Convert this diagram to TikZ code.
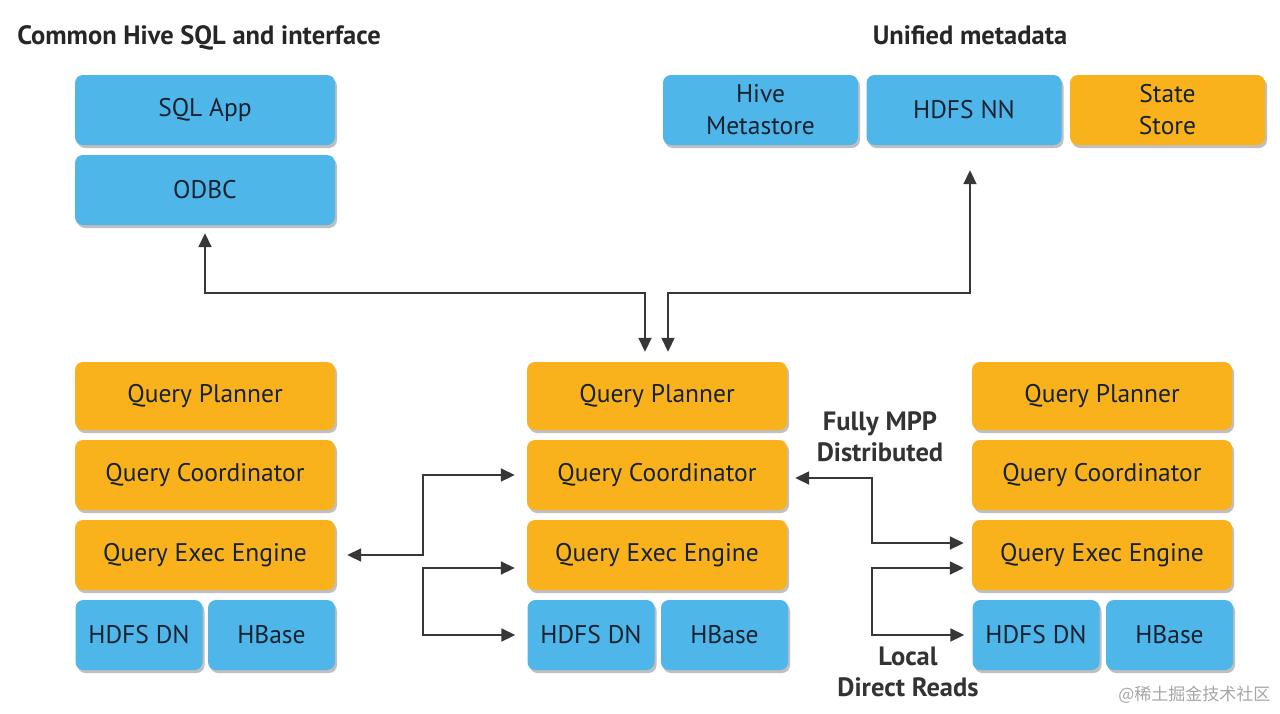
\documentclass[tikz,border=0pt]{standalone}
\usepackage{fontspec}
\setmainfont{PT Sans}
\newfontfamily\cjkfont{Noto Sans CJK SC}
\usetikzlibrary{arrows.meta,shadows,calc}
\definecolor{boxblue}{RGB}{78,182,232}
\definecolor{boxorange}{RGB}{249,178,27}
\definecolor{boxtext}{RGB}{22,34,48}
\definecolor{linegray}{RGB}{55,55,55}
\begin{document}
\begin{tikzpicture}[x=1pt,y=-1pt,
  box/.style={rounded corners=8pt, inner sep=0pt, align=center, text=boxtext,
    font=\fontsize{25.5}{32}\selectfont,
    drop shadow={shadow xshift=2pt, shadow yshift=-3pt, opacity=0.25, fill=black}},
  bbox/.style={box, fill=boxblue},
  obox/.style={box, fill=boxorange},
  wide/.style={minimum width=260pt, minimum height=70pt},
  half/.style={minimum width=127pt, minimum height=70pt},
  meta/.style={minimum width=195pt, minimum height=70pt},
  conn2/.style={draw=linegray, line width=1.8pt, {Triangle[length=14pt,width=13pt]}-{Triangle[length=14pt,width=13pt]}},
  title/.style={font=\bfseries\fontsize{26.5}{30}\selectfont, text=black!85, anchor=base},
  lbl/.style={font=\bfseries\fontsize{26.5}{31}\selectfont, text=black!80, align=center}
]
\useasboundingbox[fill=white] (0,0) rectangle (1280,713);

% titles
\node[title] (t1) at (199,44) {Common Hive SQL and interface};
\node[title] (t2) at (970,44) {Unified metadata};

% top left
\node[bbox, wide] (sql) at (205,110) {SQL App};
\node[bbox, wide] (odbc) at (205,190) {ODBC};

% metadata
\node[bbox, meta] (hms) at (760.5,110) {Hive\\Metastore};
\node[bbox, meta] (nn) at (964,110) {HDFS NN};
\node[obox, meta] (ss) at (1167.5,110) {State\\Store};

% left column
\node[obox, wide, minimum height=68pt] (qp1) at (205,396) {Query Planner};
\node[obox, wide] (qc1) at (205,475) {Query Coordinator};
\node[obox, wide] (qe1) at (205,555) {Query Exec Engine};
\node[bbox, half] (dn1) at (139,635) {HDFS DN};
\node[bbox, half] (hb1) at (271.5,635) {HBase};

% middle column
\node[obox, wide, minimum height=68pt] (qp2) at (657,396) {Query Planner};
\node[obox, wide] (qc2) at (657,475) {Query Coordinator};
\node[obox, wide] (qe2) at (657,555) {Query Exec Engine};
\node[bbox, half] (dn2) at (591,635) {HDFS DN};
\node[bbox, half] (hb2) at (724.5,635) {HBase};

% right column
\node[obox, wide, minimum height=68pt] (qp3) at (1102,396) {Query Planner};
\node[obox, wide] (qc3) at (1102,475) {Query Coordinator};
\node[obox, wide] (qe3) at (1102,555) {Query Exec Engine};
\node[bbox, half] (dn3) at (1036,635) {HDFS DN};
\node[bbox, half] (hb3) at (1169.5,635) {HBase};

% labels
\node[lbl] (mpp) at (880,437) {Fully MPP\\Distributed};
\node[lbl] (ldr) at (908,672) {Local\\Direct Reads};

% watermark
\node[font=\cjkfont\fontsize{17}{20}\selectfont, text=black!35, anchor=east] (wm) at (1274,695) {@稀土掘金技术社区};

% helper coordinates
\coordinate (topbus) at (0,293);
\coordinate (busL) at (423,0);
\coordinate (busR) at (872,0);
\coordinate (qp2a) at ($(qp2.north)+(-12,0)$);
\coordinate (qp2b) at ($(qp2.north)+(11,0)$);
\coordinate (nnb) at ($(nn.south)+(6,0)$);

% connectors
\draw[conn2, shorten <=8pt, shorten >=10pt] (odbc.south) |- (topbus -| qp2a) -- (qp2a);
\draw[conn2, shorten <=25pt, shorten >=10pt] (nnb) |- (topbus -| qp2b) -- (qp2b);

\draw[conn2, shorten <=12pt, shorten >=12pt] (qe1.east) -| (busL |- qc2.west) -- (qc2.west);
\coordinate (qe2a) at ($(qe2.west)+(0,13)$);
\draw[conn2, shorten <=12pt, shorten >=12pt] (qe2a) -| (busL |- dn2.west) -- (dn2.west);

\coordinate (qc2r) at ($(qc2.east)+(0,3)$);
\coordinate (qe3a) at ($(qe3.west)+(0,-12)$);
\coordinate (qe3b) at ($(qe3.west)+(0,13)$);
\draw[conn2, shorten <=8pt, shorten >=8pt] (qc2r) -| (busR |- qe3a) -- (qe3a);
\draw[conn2, shorten <=8pt, shorten >=8pt] (qe3b) -| (busR |- dn3.west) -- (dn3.west);
\end{tikzpicture}
\end{document}
